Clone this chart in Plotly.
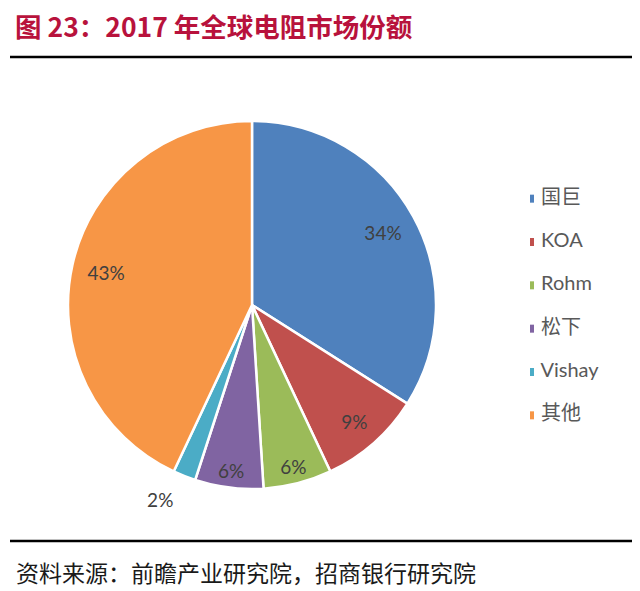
import plotly.graph_objects as go

# 2017 global resistor market share
labels = ["国巨", "KOA", "Rohm", "松下", "Vishay", "其他"]
shares = [34, 9, 6, 6, 2, 43]
colors = ["#4F81BD", "#C0504D", "#9BBB59", "#8064A2", "#4BACC6", "#F79646"]
text_pos = ["inside", "inside", "inside", "inside", "outside", "inside"]

title_text = "图 23：2017 年全球电阻市场份额"
source_text = "资料来源：前瞻产业研究院，招商银行研究院"

W, H = 640, 591
OFF = 8  # the page body adds an 8px margin, so positions are shifted back


def px(x):
    return (x - OFF) / W


def py(y):
    return 1 - (y - OFF) / H


FONT = "Lato, 'Noto Sans CJK SC', sans-serif"
CJK = "'Noto Sans CJK SC', sans-serif"

# pie centre (252, 305), radius 184 in page pixels
pie_dom = dict(x=[px(68), px(436)], y=[py(489), py(121)])
# a slightly larger see-through ring just to place the labels
ring_dom = dict(x=[px(54), px(450)], y=[py(503), py(107)])

fig = go.Figure()

fig.add_trace(go.Pie(
    labels=labels, values=shares, sort=False, direction="clockwise", rotation=0,
    marker=dict(colors=colors, line=dict(color="white", width=2.5)),
    textinfo="none", showlegend=False, hoverinfo="skip", domain=pie_dom,
))

fig.add_trace(go.Pie(
    labels=labels, values=shares, sort=False, direction="clockwise", rotation=0,
    hole=0.51,
    marker=dict(colors=["rgba(0,0,0,0)"] * len(labels), line=dict(width=0)),
    texttemplate="%{percent:.0%}",
    textposition=text_pos,
    insidetextorientation="horizontal",
    textfont=dict(family=FONT, size=19, color="#404040"),
    showlegend=False, domain=ring_dom,
))

# legend drawn as a marker column
fig.add_trace(go.Scatter(
    x=[0] * len(labels),
    y=list(range(len(labels))),
    mode="markers+text",
    marker=dict(symbol="square", size=8, color=colors),
    text=labels,
    texttemplate=" %{text}",
    textposition="middle right",
    textfont=dict(family=FONT, size=20, color="#595959"),
    showlegend=False,
    hoverinfo="skip",
))

fig.update_layout(
    width=W, height=H,
    margin=dict(l=0, r=0, t=0, b=0),
    paper_bgcolor="white",
    plot_bgcolor="white",
    xaxis=dict(domain=[px(530), 1], range=[0, 1], visible=False, fixedrange=True),
    yaxis=dict(domain=[py(437), py(177)], range=[5.5, -0.5], visible=False, fixedrange=True),
    annotations=[
        dict(text="<b>" + title_text + "</b>", x=px(13), y=py(25),
             xref="paper", yref="paper", xanchor="left", yanchor="middle",
             showarrow=False, font=dict(family=CJK, size=26.5, color="#B8123C")),
        dict(text=source_text, x=px(14), y=py(572),
             xref="paper", yref="paper", xanchor="left", yanchor="middle",
             showarrow=False, font=dict(family=CJK, size=23, color="#1a1a1a")),
    ],
    shapes=[
        dict(type="line", xref="paper", yref="paper", x0=px(10), x1=px(635),
             y0=py(57), y1=py(57), line=dict(color="black", width=2.5)),
        dict(type="line", xref="paper", yref="paper", x0=px(10), x1=px(635),
             y0=py(541), y1=py(541), line=dict(color="black", width=2.5)),
    ],
)

fig.write_html("out.html")
